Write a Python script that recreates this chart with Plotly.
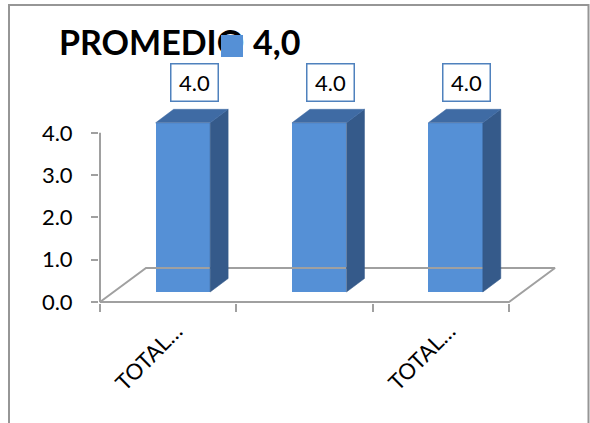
import plotly.graph_objects as go

# Chart data
title_text = "PROMEDIO"
series_name = "4,0"
categories = [0, 1, 2]
tick_labels = ["TOTAL…", "", "TOTAL…"]
values = [4.0, 4.0, 4.0]
y_ticks = [0, 1, 2, 3, 4]

# Figure geometry (pixels)
W, H = 590, 423
ML, MR, MT, MB = 99, 30, 60, 120
PW, PH = W - ML - MR, H - MT - MB
UX, UY = 136.33, 42.3            # pixels per data unit
X0 = -0.5 - 1 / UX
Y0 = -1 / UY
x_range = [X0, X0 + PW / UX]
y_range = [Y0, Y0 + PH / UY]

# 3-D style depth offsets (data units)
FLOOR_DX, FLOOR_DY = 46 / UX, 34 / UY
BAR_DX, BAR_DY = 0.108, 10 / UY          # front face shift
DEPTH_DX, DEPTH_DY = 18 / UX, 13.5 / UY  # front-to-back depth of a bar
BAR_W = 0.40

FRONT = "#5590D6"
SIDE = "#355A8A"
TOP = "#3F6BA4"
GRID = "#A0A0A0"
FONT = "Lato"


def paper_x(px):
    return (px - ML) / PW


def paper_y(py):
    return (H - MB - py) / PH


fig = go.Figure()

# Floor and value axis line
x_lo, x_hi = categories[0] - 0.5, categories[-1] + 0.5
fig.add_trace(go.Scatter(
    x=[x_lo, x_hi, x_hi + FLOOR_DX, x_lo + FLOOR_DX, x_lo, x_lo],
    y=[0, 0, FLOOR_DY, FLOOR_DY, 0, max(y_ticks)],
    mode="lines", line=dict(color=GRID, width=2),
    hoverinfo="skip", showlegend=False,
))

# Front faces of the bars
fig.add_trace(go.Bar(
    x=[c + BAR_DX for c in categories], y=values, base=BAR_DY,
    width=BAR_W, marker=dict(color=FRONT, line=dict(width=0)),
    name=series_name, showlegend=False,
))

# Side and top faces
for c, v in zip(categories, values):
    xl = c + BAR_DX - BAR_W / 2
    xr = c + BAR_DX + BAR_W / 2
    b = BAR_DY
    t = BAR_DY + v
    fig.add_trace(go.Scatter(
        x=[xr, xr, xr + DEPTH_DX, xr + DEPTH_DX, xr],
        y=[b, t, t + DEPTH_DY, b + DEPTH_DY, b],
        fill="toself", fillcolor=SIDE, mode="lines",
        line=dict(color=SIDE, width=0.5),
        hoverinfo="skip", showlegend=False,
    ))
    fig.add_trace(go.Scatter(
        x=[xl, xr, xr + DEPTH_DX, xl + DEPTH_DX, xl],
        y=[t, t, t + DEPTH_DY, t + DEPTH_DY, t],
        fill="toself", fillcolor=TOP, mode="lines",
        line=dict(color=TOP, width=0.5),
        hoverinfo="skip", showlegend=False,
    ))

annotations = []

# Value labels in boxes
for c, v in zip(categories, values):
    annotations.append(dict(
        x=c, y=v, xref="x", yref="y", text=f"{v:.1f}",
        showarrow=False, xanchor="center", yanchor="middle",
        xshift=26, yshift=50, width=40, height=30,
        font=dict(family=FONT, size=22, color="#000000"),
        bgcolor="#FFFFFF", bordercolor="#4F81BD", borderwidth=1.5, borderpad=3,
    ))

# Rotated category labels
for c, lab in zip(categories, tick_labels):
    if not lab:
        continue
    annotations.append(dict(
        x=c, y=0, xref="x", yref="y", text=lab, showarrow=False,
        textangle=-45, xanchor="right", yanchor="top",
        xshift=22, yshift=-13,
        font=dict(family=FONT, size=22, color="#000000"),
    ))

# Title and legend entry
annotations.append(dict(
    x=paper_x(57), y=paper_y(42), xref="paper", yref="paper",
    text=f"<b>{title_text}</b>", showarrow=False,
    xanchor="left", yanchor="middle",
    font=dict(family=FONT, size=34, color="#000000"),
))
annotations.append(dict(
    x=paper_x(251), y=paper_y(42), xref="paper", yref="paper",
    text=f"<b>{series_name}</b>", showarrow=False,
    xanchor="left", yanchor="middle",
    font=dict(family=FONT, size=34, color="#000000"),
))
# legend swatch, drawn over the title text
annotations.append(dict(
    x=paper_x(221), y=paper_y(35), xref="paper", yref="paper",
    text=" ", showarrow=False, xanchor="left", yanchor="top",
    width=22, height=22, borderpad=0, borderwidth=0,
    bgcolor=FRONT, font=dict(size=4),
))

shapes = [
    # chart border
    dict(type="rect", xref="paper", yref="paper",
         x0=paper_x(9), x1=paper_x(588.5), y0=paper_y(440), y1=paper_y(5),
         fillcolor="rgba(0,0,0,0)", line=dict(color="#969696", width=2)),
]

fig.update_layout(
    width=W, height=H,
    margin=dict(l=ML, r=MR, t=MT, b=MB, pad=0),
    paper_bgcolor="#FFFFFF", plot_bgcolor="#FFFFFF",
    showlegend=False, bargap=0,
    annotations=annotations, shapes=shapes,
    xaxis=dict(
        range=x_range, showgrid=False, zeroline=False, showline=False,
        tickmode="array", tickvals=[x_lo + i for i in range(len(categories) + 1)],
        showticklabels=False, ticks="outside", ticklen=8,
        tickcolor=GRID, tickwidth=2, fixedrange=True,
    ),
    yaxis=dict(
        range=y_range, showgrid=False, zeroline=False, showline=False,
        tickmode="array", tickvals=y_ticks,
        ticktext=[f"{t:.1f}" for t in y_ticks],
        ticks="outside", ticklen=7, tickcolor=GRID, tickwidth=2,
        ticklabelstandoff=14,
        tickfont=dict(family=FONT, size=22, color="#000000"),
        fixedrange=True,
    ),
)

fig.write_html("out.html")
